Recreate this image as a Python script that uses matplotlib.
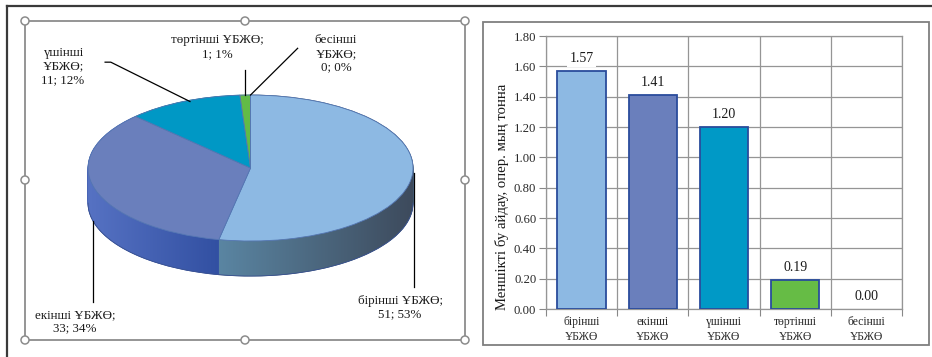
import numpy as np
import matplotlib
matplotlib.use("Agg")
import matplotlib.pyplot as plt
from matplotlib.patches import Rectangle, Circle, Polygon
from matplotlib.lines import Line2D
from matplotlib.colors import to_rgb

plt.rcParams['font.family'] = ['Liberation Serif', 'DejaVu Serif']

# ---------------- data ----------------
categories = ["бірінші ҰБЖӨ", "екінші ҰБЖӨ", "үшінші ҰБЖӨ", "төртінші ҰБЖӨ", "бесінші ҰБЖӨ"]
pie_values = [51, 33, 11, 1, 0]
pie_percents = [53, 34, 12, 1, 0]
bar_values = [1.57, 1.41, 1.20, 0.19, 0.00]
bar_tick_labels = ["бірінші\nҰБЖӨ", "екінші\nҰБЖӨ", "үшінші\nҰБЖӨ", "төртінші\nҰБЖӨ", "бесінші\nҰБЖӨ"]
y_ticks = [0.0, 0.2, 0.4, 0.6, 0.8, 1.0, 1.2, 1.4, 1.6, 1.8]
y_label = "Меншікті бу айдау, опер. мың тонна"
pie_label_texts = [
    "бірінші ҰБЖӨ;\n51; 53%",
    "екінші ҰБЖӨ;\n33; 34%",
    "үшінші\nҰБЖӨ;\n11; 12%",
    "төртінші ҰБЖӨ;\n1; 1%",
    "бесінші\nҰБЖӨ;\n0; 0%",
]

top_colors = ["#8DB9E3", "#6A7FBC", "#0098C5", "#62BB46", "#62BB46"]
side_colors = ["#4A6480", "#4562B5", "#00789F", "#4C9A36", "#4C9A36"]
# side shading (left colour, right colour) for each slice
side_grad = [("#5A85A2", "#3D4A5C"), ("#5672C3", "#3250A2"), ("#00789F", "#00607F"),
             ("#4C9A36", "#3C8028"), ("#4C9A36", "#3C8028")]
bar_colors = ["#8DB9E3", "#6A7FBC", "#0099C6", "#66BC45", "#66BC45"]

W, H = 932, 357
fig = plt.figure(figsize=(W / 100, H / 100), dpi=100)

def fbox(x0, y0, x1, y1):
    return [x0 / W, 1 - y1 / H, (x1 - x0) / W, (y1 - y0) / H]

# ---------------- 3D pie ----------------
axp = fig.add_axes(fbox(25, 21, 465, 340))
depth = 0.48
for t in np.linspace(depth, 0, 45):
    wedges, _ = axp.pie(pie_values, startangle=90, counterclock=False,
                        colors=side_colors, center=(0, -t),
                        wedgeprops=dict(linewidth=0.6))
    for w in wedges:
        w.set_edgecolor(w.get_facecolor())

# gradient shading on the visible front side of each slice
fr = np.array(pie_values, float) / sum(pie_values)
ends = np.cumsum(fr) * 360.0
starts = ends - fr * 360.0
for a0, a1, (cl, cr) in zip(starts, ends, side_grad):
    lo, hi = max(a0, 90.0), min(a1, 270.0)
    if hi <= lo:
        continue
    th = np.deg2rad(np.linspace(lo, hi, 80))
    xs = np.sin(th)
    ys = np.cos(th)
    poly = np.vstack([np.column_stack([xs, ys]),
                      np.column_stack([xs[::-1], ys[::-1] - depth])])
    clip = Polygon(poly, closed=True, transform=axp.transData, fc='none', ec='none')
    axp.add_patch(clip)
    xmin, xmax = xs.min(), xs.max()
    g = np.linspace(0, 1, 200)[None, :, None]
    img = (1 - g) * np.array(to_rgb(cl)) + g * np.array(to_rgb(cr))
    im = axp.imshow(img, extent=(xmin, xmax, ys.min() - depth - 0.02, ys.max() + 0.02),
                    aspect='auto', origin='lower', interpolation='bilinear', zorder=1)
    im.set_clip_path(clip)
    axp.plot(xs, ys - depth, color="#3A5290", lw=0.6, zorder=1.5)

wedges, _ = axp.pie(pie_values, startangle=90, counterclock=False,
                    colors=top_colors, center=(0, 0),
                    wedgeprops=dict(linewidth=0.6, edgecolor="#5577B3"))
for w in wedges:
    w.set_zorder(2)
axp.set_aspect('auto')
axp.set_xlim(-1.388, 1.320)
axp.set_ylim(-2.356, 2.014)
axp.axis('off')

# leader lines & labels
mids = np.deg2rad((starts + ends) / 2)
ax_pts = np.sin(mids)
ay_pts = np.cos(mids)

label_pos = [(0.92, -1.74), (-1.08, -1.93), (-1.154, 1.66), (-0.206, 1.83), (0.526, 1.83)]
line_ends = [
    [(ax_pts[0] + 0.01, ay_pts[0] + 0.03), (ax_pts[0] + 0.01, -1.63)],
    [(ax_pts[1] - 0.01, ay_pts[1] - depth * 0.9), (ax_pts[1] - 0.01, -1.84)],
    [(ax_pts[2] + 0.04, ay_pts[2]), (-0.86, 1.45), (-0.895, 1.45)],
    [(ax_pts[3], ay_pts[3]), (ax_pts[3], 1.34)],
    [(ax_pts[4], ay_pts[4]), (0.29, 1.64)],
]
for pts in line_ends:
    xs, ys = zip(*pts)
    axp.plot(xs, ys, color="black", lw=0.9, clip_on=False, zorder=3)
for (x, y), txt in zip(label_pos, pie_label_texts):
    axp.text(x, y, txt, ha='center', va='top', fontsize=9.4,
             linespacing=1.18, color="#1A1A1A")

# ---------------- bar chart ----------------
axb = fig.add_axes(fbox(546, 36, 902, 309))
x = np.arange(len(bar_values))
edge_cols = ["#2A4C9C" if v > 0 else "none" for v in bar_values]
axb.bar(x, bar_values, width=0.68, color=bar_colors, edgecolor=edge_cols,
        linewidth=1.3, zorder=3)
axb.set_xlim(-0.5, len(bar_values) - 0.5)
axb.set_ylim(0, 1.8)
axb.set_yticks(y_ticks)
axb.set_yticklabels([f"{v:.2f}" for v in y_ticks], fontsize=9.2, color="#2A2A2A")
axb.set_xticks(x)
axb.set_xticklabels(bar_tick_labels, fontsize=8.4, color="#2A2A2A", linespacing=1.3)
axb.set_xticks(np.arange(len(bar_values) + 1) - 0.5, minor=True)
axb.tick_params(axis='x', which='major', length=0, pad=5)
axb.tick_params(axis='x', which='minor', length=5, color="#888888", width=0.8)
axb.tick_params(axis='y', which='major', length=5, color="#888888", width=0.8, pad=2)
axb.grid(True, axis='y', which='major', color="#959595", lw=0.9, zorder=0)
axb.grid(True, axis='x', which='minor', color="#959595", lw=0.9, zorder=0)
for s in axb.spines.values():
    s.set_color("#959595")
    s.set_linewidth(0.9)
axb.set_ylabel(y_label, fontsize=10.6, color="#1A1A1A")
axb.yaxis.set_label_coords(-0.105, 0.41)
for xi, v in zip(x, bar_values):
    axb.annotate(f"{v:.2f}", (xi, v), xytext=(0, 4.5), textcoords='offset points',
                 ha='center', va='bottom', fontsize=10, color="#1A1A1A", zorder=5,
                 bbox=dict(boxstyle='square,pad=0.15', fc='white', ec='none'))

# ---------------- frames overlay ----------------
axo = fig.add_axes([0, 0, 1, 1], zorder=10)
axo.set_xlim(0, W)
axo.set_ylim(H, 0)
axo.axis('off')
axo.patch.set_alpha(0)
axo.add_line(Line2D([7, W], [6, 6], color="#3A3A3A", lw=1.6))
axo.add_line(Line2D([7, 7], [6, H], color="#3A3A3A", lw=1.6))
axo.add_patch(Rectangle((25, 21), 440, 319, fill=False, ec="#8C8C8C", lw=1.3))
for cx, cy in [(25, 21), (245, 21), (465, 21), (25, 180), (465, 180),
               (25, 340), (245, 340), (465, 340)]:
    axo.add_patch(Circle((cx, cy), 4, fc="white", ec="#8C8C8C", lw=1.1))
axo.add_patch(Rectangle((483, 22), 446, 323, fill=False, ec="#7F7F7F", lw=1.3))

fig.savefig("out.png", dpi=100)
